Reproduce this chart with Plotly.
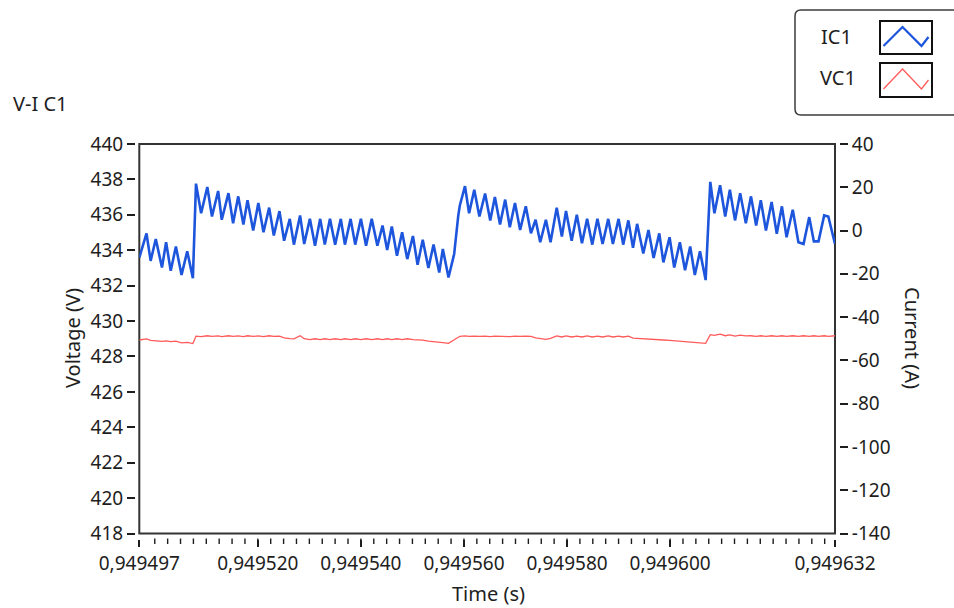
import plotly.graph_objects as go

# ---- data -------------------------------------------------------------
T0 = 0.949497  # s, start of the time window

# sample instants, microseconds after T0
t_us = [
    0.0, 1.4, 2.2, 3.2, 4.4, 5.2, 6.1, 7.1, 8.2, 9.3, 10.4,
    11.0, 12.0, 13.2, 14.1, 15.3, 16.0, 17.3, 18.2, 19.2, 20.2,
    21.0, 22.1, 23.1, 24.1, 25.2, 26.1, 27.2, 28.1, 29.2, 30.0,
    31.2, 32.0, 33.1, 34.1, 35.1, 36.0, 37.0, 38.0, 39.1, 39.9,
    41.0, 41.9, 43.0, 44.0, 45.1, 46.2, 47.2, 48.1, 49.0, 50.0,
    51.0, 52.0, 53.1, 54.0, 55.0, 56.1, 57.1, 58.2, 58.9, 60.0,
    61.1, 61.9, 62.2, 63.2, 64.0, 65.0, 66.0, 67.1, 68.1, 69.0,
    70.0, 71.0, 71.9, 72.9, 73.9, 75.0, 76.0, 76.9, 77.8, 78.9,
    79.8, 81.0, 82.0, 82.8, 83.9, 84.9, 85.9, 86.9, 87.9, 88.9,
    89.9, 91.0, 91.9, 93.0, 93.9, 94.9, 95.8, 96.6, 97.8, 98.8,
    99.8, 100.9, 101.7, 102.9, 103.8, 104.9, 105.9, 106.9, 107.8, 108.8,
    109.9, 110.8, 111.6, 112.7, 113.7, 114.6, 115.6, 116.6, 117.7, 118.7,
    119.7, 120.6, 121.6, 122.7, 123.7, 124.7, 125.6, 126.8, 127.9, 128.9,
    130.0, 130.9, 131.8, 132.9, 133.7, 135.0,
]

# capacitor current IC1 (A)
ic1 = [
    -12.5, -1.3, -14.0, -3.9, -17.1, -5.4, -18.6, -7.4, -20.5, -9.6, -22.0,
    21.7, 8.0, 20.1, 6.5, 18.3, 5.0, 17.3, 3.4, 15.8, 2.8,
    14.0, 0.0, 12.7, -0.8, 10.6, -2.3, 9.0, -4.7, 5.4, -6.5,
    7.0, -6.2, 5.4, -7.0, 5.4, -6.5, 5.4, -6.5, 5.4, -6.5,
    5.4, -6.5, 5.4, -7.0, 5.4, -7.0, 2.3, -9.0, 1.9, -11.6,
    -0.8, -13.2, -2.5, -15.8, -4.3, -17.3, -6.5, -19.4, -8.5, -21.7,
    -10.8, 7.0, 11.6, 20.5, 8.0, 18.9, 6.5, 17.1, 4.7, 15.5,
    2.8, 14.3, 1.5, 12.7, 0.3, 11.2, -1.3, 5.0, -5.4, 5.0,
    -5.4, 10.6, -2.8, 9.0, -4.7, 7.3, -5.9, 5.4, -6.5, 5.4,
    -6.2, 5.4, -6.2, 5.4, -6.5, 4.7, -8.0, 3.1, -10.6, 0.3,
    -12.7, -1.3, -14.7, -3.1, -17.1, -5.4, -18.3, -7.4, -20.5, -9.6,
    -22.9, 22.5, 8.0, 20.9, 6.5, 18.9, 4.7, 17.3, 3.4, 15.8,
    2.3, 14.0, 0.0, 13.2, -1.5, 11.2, -3.1, 9.6, -5.4, -6.2,
    6.2, -5.0, -5.0, 7.0, 6.5, -6.2,
]

# capacitor voltage VC1 (V)
vc1 = [
    428.93, 428.99, 428.91, 428.89, 428.85, 428.88, 428.84, 428.87, 428.77, 428.80, 428.73,
    429.15, 429.12, 429.17, 429.13, 429.16, 429.12, 429.17, 429.13, 429.16, 429.12,
    429.17, 429.13, 429.16, 429.12, 429.17, 429.13, 429.15, 429.05, 429.01, 428.99,
    429.17, 429.00, 428.95, 429.00, 428.95, 429.00, 428.95, 429.00, 428.95, 429.00,
    428.95, 429.00, 428.95, 429.00, 428.95, 429.00, 428.95, 429.00, 428.95, 429.00,
    428.95, 429.00, 428.95, 428.95, 428.92, 428.87, 428.85, 428.81, 428.78, 428.74,
    428.92, 429.09, 429.14, 429.16, 429.13, 429.15, 429.13, 429.15, 429.12, 429.15,
    429.13, 429.15, 429.12, 429.15, 429.13, 429.15, 429.13, 429.05, 429.00, 428.97,
    429.02, 429.16, 429.10, 429.16, 429.10, 429.15, 429.10, 429.16, 429.10, 429.15,
    429.10, 429.16, 429.10, 429.15, 429.10, 429.15, 429.04, 429.02, 429.00, 428.99,
    428.97, 428.95, 428.93, 428.91, 428.89, 428.87, 428.85, 428.82, 428.80, 428.77,
    428.74, 429.23, 429.19, 429.26, 429.17, 429.22, 429.15, 429.20, 429.16, 429.17,
    429.13, 429.17, 429.13, 429.17, 429.13, 429.17, 429.13, 429.17, 429.13, 429.17,
    429.13, 429.17, 429.13, 429.17, 429.13, 429.17,
]

x_tickvals = [0.949497, 0.949520, 0.949540, 0.949560, 0.949580, 0.949600, 0.949632]
x_ticktext = ["0,949497", "0,949520", "0,949540", "0,949560", "0,949580", "0,949600", "0,949632"]
v_ticks = list(range(418, 441, 2))
i_ticks = list(range(-140, 41, 20))
i_ticktext = [str(v) for v in i_ticks]

time_s = [T0 + t * 1e-6 for t in t_us]
X_RANGE = [0.949497, 0.949632]
SPAN_US = 135.0

# minor time ticks every 2.5 us, from 0.949500 s up to the end of the window
minor_step_us = 2.5
minor_us = []
k = 0
while 3.0 + k * minor_step_us < SPAN_US:
    minor_us.append(3.0 + k * minor_step_us)
    k += 1

# ---- page geometry (pixels) ------------------------------------------
W, H = 954, 608
PL, PT, PW, PH = 135, 140, 704, 399      # paper area
FRAME_L, FRAME_R, FRAME_T, FRAME_B = 139.3, 835, 144, 533.5


def fx(px):
    return (px - PL) / PW


def fy(py):
    return (PT + PH - py) / PH


FONT = "Noto Sans"
INK = "#1e1e1e"
BLUE = "#1d56dc"
RED = "#ff5a5a"

fig = go.Figure()
fig.add_trace(go.Scatter(x=time_s, y=vc1, name="VC1", mode="lines",
                         line=dict(color=RED, width=1.3), yaxis="y"))
fig.add_trace(go.Scatter(x=time_s, y=ic1, name="IC1", mode="lines",
                         line=dict(color=BLUE, width=2.6), yaxis="y2"))

tickfont = dict(family=FONT, size=19, color=INK)

fig.update_layout(
    width=W, height=H,
    margin=dict(l=PL, r=W - PL - PW, t=PT, b=H - PT - PH, pad=0),
    paper_bgcolor="white", plot_bgcolor="white",
    showlegend=False,
    font=dict(family=FONT, color=INK),
    xaxis=dict(
        range=X_RANGE,
        domain=[fx(FRAME_L), fx(FRAME_R)],
        anchor="free", position=0,
        showgrid=False, zeroline=False, showline=False,
        tickmode="array", tickvals=x_tickvals, ticktext=x_ticktext,
        ticks="outside", ticklen=7, tickwidth=1.5, tickcolor=INK,
        tickfont=tickfont,
    ),
    yaxis=dict(
        range=[418, 440],
        domain=[fy(FRAME_B), fy(FRAME_T)],
        anchor="free", position=0,
        showgrid=False, zeroline=False, showline=False,
        tickmode="array", tickvals=v_ticks,
        ticks="outside", ticklen=8, tickwidth=1.5, tickcolor=INK,
        tickfont=tickfont,
    ),
    yaxis2=dict(
        range=[-140, 40],
        overlaying="y", side="right",
        anchor="free", position=1,
        showgrid=False, zeroline=False, showline=False,
        tickmode="array", tickvals=i_ticks, ticktext=i_ticktext,
        ticks="outside", ticklen=8, tickwidth=1.5, tickcolor=INK,
        tickfont=tickfont,
    ),
)

shapes = [
    # plot frame
    dict(type="rect", xref="x domain", yref="y domain", x0=0, x1=1, y0=0, y1=1,
         line=dict(color="#333333", width=2), layer="below"),
]

# minor tick marks on the time axis, drawn as one path on the page
segs = []
for mu in minor_us:
    px = FRAME_L + (FRAME_R - FRAME_L) * mu / SPAN_US
    segs.append(f"M {fx(px):.5f} {fy(538.5):.5f} L {fx(px):.5f} {fy(544):.5f}")
shapes.append(dict(type="path", xref="paper", yref="paper", path=" ".join(segs),
                   line=dict(color=INK, width=1.4), layer="above"))

# legend panel with rounded corners
lx0, lx1, ly0, ly1, r = 795, 965, 10, 115, 6
path = (f"M {fx(lx0 + r)} {fy(ly0)} L {fx(lx1)} {fy(ly0)} "
        f"L {fx(lx1)} {fy(ly1)} L {fx(lx0 + r)} {fy(ly1)} "
        f"Q {fx(lx0)} {fy(ly1)} {fx(lx0)} {fy(ly1 - r)} "
        f"L {fx(lx0)} {fy(ly0 + r)} Q {fx(lx0)} {fy(ly0)} {fx(lx0 + r)} {fy(ly0)} Z")
shapes.append(dict(type="path", xref="paper", yref="paper", path=path,
                   line=dict(color="#3c3c3c", width=1.5)))

# legend swatches
for (top, bot, col, lw) in [(21, 54, BLUE, 2.2), (63, 97, RED, 1.3)]:
    shapes.append(dict(type="rect", xref="paper", yref="paper",
                       x0=fx(880), x1=fx(932), y0=fy(bot), y1=fy(top),
                       line=dict(color="#111111", width=2)))
    zig = [(883.5, bot - 8), (902.5, top + 6), (921.5, bot - 8), (928.5, bot - 17)]
    p = "M " + " L ".join(f"{fx(a)} {fy(b)}" for a, b in zig)
    shapes.append(dict(type="path", xref="paper", yref="paper", path=p,
                       line=dict(color=col, width=lw)))

fig.update_layout(shapes=shapes)

ann_font = dict(family=FONT, size=20, color=INK)
annotations = [
    dict(text="V-I C1", x=fx(11), y=fy(103), xanchor="left", yanchor="middle"),
    dict(text="IC1", x=fx(836), y=fy(37), xanchor="center", yanchor="middle"),
    dict(text="VC1", x=fx(838), y=fy(78), xanchor="center", yanchor="middle"),
    dict(text="Voltage (V)", x=fx(72), y=fy(338), textangle=-90,
         xanchor="center", yanchor="middle"),
    dict(text="Current (A)", x=fx(913), y=fy(338), textangle=90,
         xanchor="center", yanchor="middle"),
    dict(text="Time (s)", x=fx(488), y=fy(593), xanchor="center", yanchor="middle"),
]
for a in annotations:
    a.update(xref="paper", yref="paper", showarrow=False, font=ann_font)
fig.update_layout(annotations=annotations)

fig.write_html("out.html")
